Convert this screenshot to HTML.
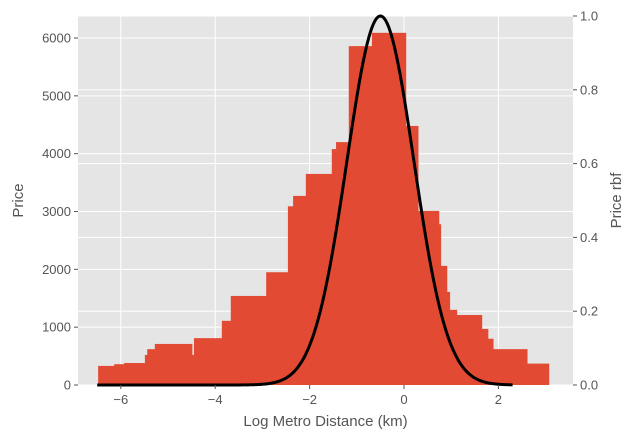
<!DOCTYPE html>
<html><head><meta charset="utf-8"><style>
body{margin:0;background:#fff}
text{font-family:"Liberation Sans","DejaVu Sans",sans-serif}
</style></head><body>
<svg id="chart" width="634" height="439" xmlns="http://www.w3.org/2000/svg"></svg>
<script>
const barStart=[-6.48,-6.14,-5.93,-5.49,-5.44,-5.28,-4.49,-4.45,-3.86,-3.67,-2.92,-2.46,-2.35,-2.08,-1.53,-1.44,-1.17,-0.68,0.04,0.30,0.74,0.78,0.91,0.97,1.12,1.65,1.78,1.89,2.61];
const barEnd=[-6.14,-5.93,-5.49,-5.44,-5.28,-4.49,-4.45,-3.86,-3.67,-2.92,-2.46,-2.35,-2.08,-1.53,-1.44,-1.17,-0.68,0.04,0.30,0.74,0.78,0.91,0.97,1.12,1.65,1.78,1.89,2.61,3.07];
const barPrice=[330,360,380,520,620,710,520,810,1110,1540,1950,3090,3270,3650,4080,4200,5860,6090,4480,3010,2780,2060,1610,1300,1210,970,800,620,370];
const rbfCenter=[-0.5];
const rbfWidth=[0.71];
const rbfRange=[-6.5,2.3];
const xTicks=[-6,-4,-2,0,2];
const yTicks=[0,1000,2000,3000,4000,5000,6000];
const y2Ticks=[0,0.2,0.4,0.6,0.8,1.0];
const L=78,R=573,T=16,B=385;
const xMin=-6.907,xMax=3.58,yMax=6381;
const X=v=>L+(v-xMin)/(xMax-xMin)*(R-L);
const Y=v=>B-v/yMax*(B-T);
const Y2=v=>B-v*(B-T);
const svg=document.getElementById('chart');
const NS='http://www.w3.org/2000/svg';
function mk(tag,attrs,parent){const e=document.createElementNS(NS,tag);for(const k in attrs)e.setAttribute(k,attrs[k]);(parent||svg).appendChild(e);return e;}
const bg=mk('rect',{x:L,y:T,width:R-L,height:B-T,fill:'#e5e5e5'});


xTicks.forEach(t=>{const g=mk('line',{x1:X(t),x2:X(t),y1:T,y2:B,stroke:'#fff','stroke-width':1});

});
yTicks.forEach(t=>{const g=mk('line',{x1:L,x2:R,y1:Y(t),y2:Y(t),stroke:'#fff','stroke-width':1});

});
y2Ticks.forEach(t=>{const g=mk('line',{x1:L,x2:R,y1:Y2(t),y2:Y2(t),stroke:'#fff','stroke-width':1});

});
barPrice.forEach((p,i)=>{const b=mk('rect',{x:X(barStart[i]),y:Y(p),width:X(barEnd[i])-X(barStart[i])+0.3,height:B-Y(p),fill:'#e24a33'});

});
let d='';
for(let k=0;k<=400;k++){const x=rbfRange[0]+(rbfRange[1]-rbfRange[0])*k/400;const v=Math.exp(-Math.pow((x-rbfCenter[0])/rbfWidth[0],2)/2);d+=(k?'L':'M')+X(x).toFixed(2)+','+Y2(v).toFixed(2);}
const line=mk('path',{d:d,fill:'none',stroke:'#000','stroke-width':3});


xTicks.forEach(t=>{mk('line',{x1:X(t),x2:X(t),y1:B,y2:B+4,stroke:'#555'});
const l=mk('text',{x:X(t),y:B+19,'text-anchor':'middle','font-size':13,fill:'#555'});l.textContent=t<0?'\u2212'+(-t):t;

});
yTicks.forEach(t=>{mk('line',{x1:L-4,x2:L,y1:Y(t),y2:Y(t),stroke:'#555'});
const l=mk('text',{x:L-7,y:Y(t)+4.5,'text-anchor':'end','font-size':13,fill:'#555'});l.textContent=t;

});
y2Ticks.forEach(t=>{mk('line',{x1:R,x2:R+4,y1:Y2(t),y2:Y2(t),stroke:'#555'});
const l=mk('text',{x:R+7,y:Y2(t)+4.5,'font-size':13,fill:'#555'});l.textContent=t.toFixed(1);

});
const xt=mk('text',{x:(L+R)/2,y:426,'text-anchor':'middle','font-size':15,fill:'#555'});xt.textContent='Log Metro Distance (km)';


const yt=mk('text',{x:0,y:0,'text-anchor':'middle','font-size':15,fill:'#555',transform:'translate(23,'+((T+B)/2)+') rotate(-90)'});yt.textContent='Price';


const y2t=mk('text',{x:0,y:0,'text-anchor':'middle','font-size':15,fill:'#555',transform:'translate(621,'+((T+B)/2)+') rotate(-90)'});y2t.textContent='Price rbf';


</script>
</body></html>
